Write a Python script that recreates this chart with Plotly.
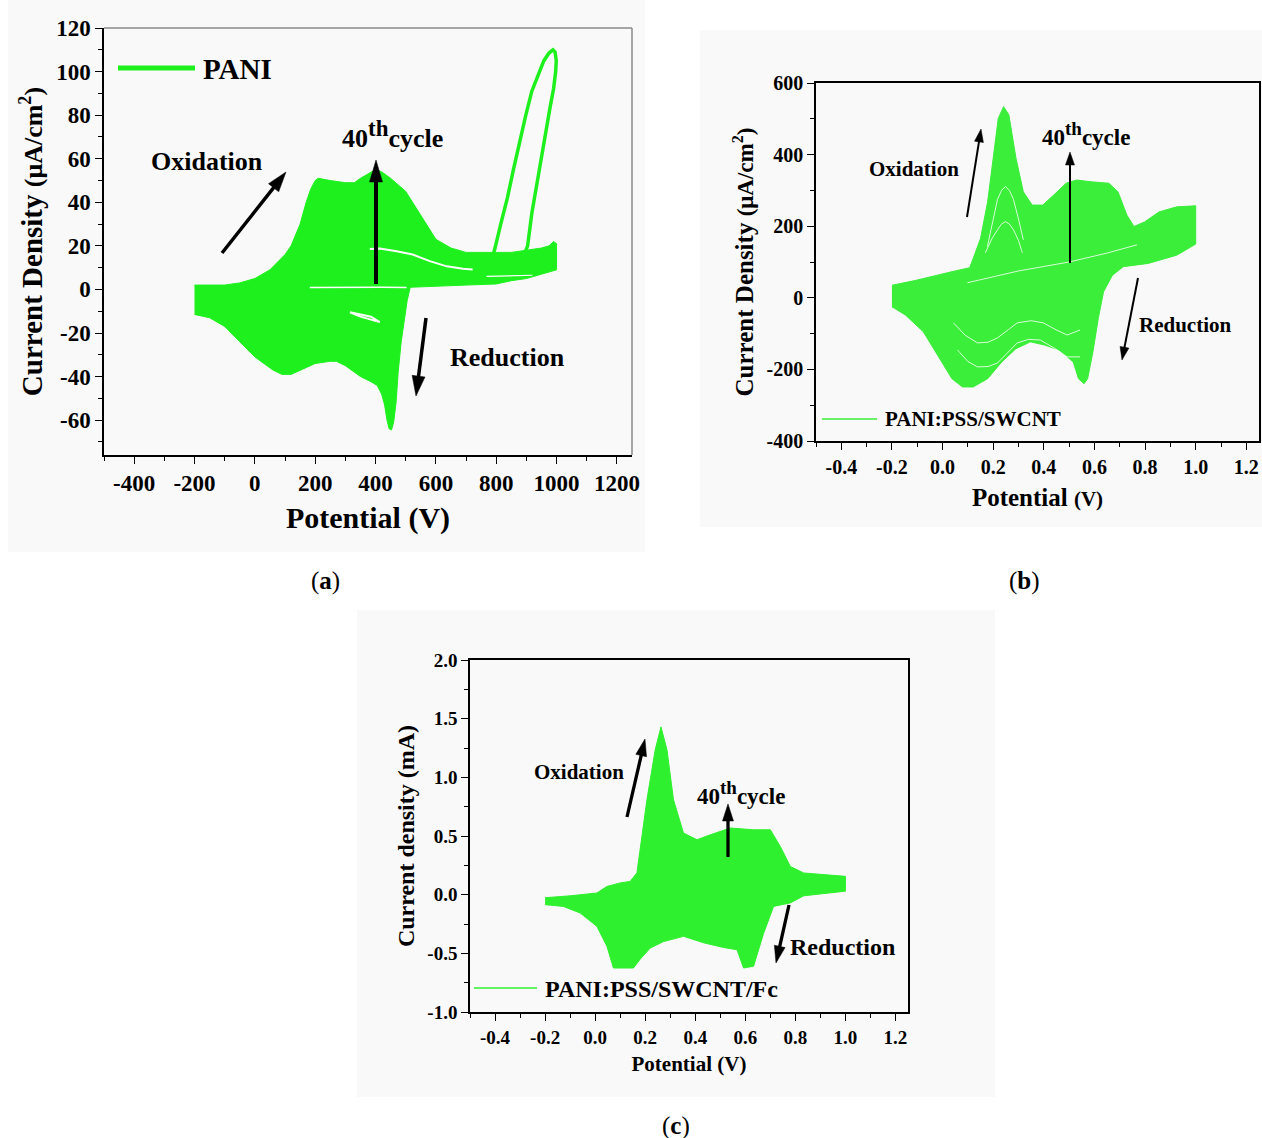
import plotly.graph_objects as go

W, H = 1262, 1138
FONT = "Liberation Serif"

# ---------------- Panel (a): PANI ----------------
a_anodic_x = [-200, -150, -100, -50, 0, 50, 100, 120, 150, 170, 185, 200, 210, 250, 300, 330, 350, 375, 400, 420, 450, 500, 550, 600, 650, 700, 750, 800, 850, 900, 950, 975, 990, 1000]
a_anodic_y = [2, 2, 2, 3, 5, 9, 16, 20, 30, 40, 46, 50, 51, 50, 49, 49, 51, 53, 55, 54, 51, 45, 34, 23, 19, 17, 17, 17, 17, 18, 19, 20, 22, 21]
a_cathodic_x = [1000, 950, 900, 850, 800, 700, 600, 550, 515, 505, 495, 485, 475, 468, 460, 453, 445, 438, 430, 420, 405, 380, 350, 300, 270, 250, 200, 150, 120, 90, 60, 30, 0, -50, -100, -150, -200]
a_cathodic_y = [9, 7, 5, 4, 2.5, 2, 1.5, 1.5, 1, -5, -14, -24, -38, -52, -61, -64.5, -64, -60, -53, -48, -44, -42, -40, -35, -33, -33, -34, -37, -39, -39, -37, -34, -31, -24, -17, -13, -11.5]
a_first_x = [780, 796, 815, 837, 857, 877, 898, 918, 940, 958, 975, 988, 995, 999, 997, 990, 979, 958, 938, 918, 904, 890, 860, 820, 780]
a_first_y = [11, 19, 30, 42, 55, 68, 80, 91, 99, 105, 108.5, 110, 109, 105, 100, 92, 84, 68, 51, 35, 20, 15, 12, 11.5, 11]
a_gap1_x = [381, 414, 470, 523, 580, 636, 690, 722]
a_gap1_y = [18.5, 18.8, 17.5, 16, 13, 10.6, 9.5, 9.2]
a_gap2_x = [182, 250, 330, 420, 503]
a_gap2_y = [0.9, 1.0, 1.2, 1.0, 0.9]
a_gap3_x = [315, 350, 385, 414, 385, 350, 315]
a_gap3_y = [-10.5, -11.5, -12.5, -15, -14, -12.5, -10.5]
a_gap4_x = [768, 840, 920]
a_gap4_y = [6, 6.3, 6.5]
a_xticks = [-400, -200, 0, 200, 400, 600, 800, 1000, 1200]
a_xlabels = ["-400", "-200", "0", "200", "400", "600", "800", "1000", "1200"]
a_yticks = [-60, -40, -20, 0, 20, 40, 60, 80, 100, 120]
a_ylabels = ["-60", "-40", "-20", "0", "20", "40", "60", "80", "100", "120"]

# ---------------- Panel (b): PANI:PSS/SWCNT ----------------
b_anodic_x = [-0.2, -0.104, 0.037, 0.107, 0.121, 0.15, 0.178, 0.199, 0.22, 0.241, 0.262, 0.29, 0.319, 0.354, 0.396, 0.439, 0.488, 0.53, 0.587, 0.657, 0.693, 0.728, 0.756, 0.798, 0.855, 0.925, 1.0]
b_anodic_y = [35, 49, 73, 84, 110, 166, 268, 390, 501, 534, 511, 390, 296, 259, 259, 287, 320, 329, 324, 320, 296, 231, 199, 212, 240, 254, 257]
b_cathodic_x = [1.0, 1.0, 0.925, 0.812, 0.714, 0.671, 0.636, 0.615, 0.594, 0.573, 0.559, 0.537, 0.516, 0.46, 0.403, 0.347, 0.29, 0.234, 0.178, 0.121, 0.079, 0.037, -0.02, -0.076, -0.147, -0.2]
b_cathodic_y = [220, 150, 119, 96, 87, 63, 17, -58, -151, -226, -240, -226, -179, -146, -132, -123, -142, -179, -226, -249, -249, -226, -160, -95, -48, -25]
b_diag_x = [0.098, 0.3, 0.5, 0.65, 0.768]
b_diag_y = [42, 75, 100, 125, 148]
b_w1_x = [0.043, 0.09, 0.138, 0.18, 0.217, 0.26, 0.295, 0.35, 0.398, 0.45, 0.492, 0.543]
b_w1_y = [-70, -105, -126, -124, -112, -88, -70, -64, -70, -90, -104, -90]
b_w2_x = [0.059, 0.1, 0.138, 0.18, 0.217, 0.26, 0.295, 0.34, 0.386, 0.44, 0.492, 0.543]
b_w2_y = [-146, -178, -193, -192, -182, -152, -126, -116, -118, -140, -165, -165]
b_arc1_x = [0.177, 0.2, 0.217, 0.233, 0.248, 0.264, 0.28, 0.3, 0.319]
b_arc1_y = [143, 220, 275, 300, 311, 300, 275, 220, 162]
b_arc2_x = [0.169, 0.195, 0.217, 0.233, 0.248, 0.264, 0.28, 0.3, 0.315]
b_arc2_y = [126, 165, 190, 206, 213, 206, 190, 160, 126]
b_xticks = [-0.4, -0.2, 0.0, 0.2, 0.4, 0.6, 0.8, 1.0, 1.2]
b_xlabels = ["-0.4", "-0.2", "0.0", "0.2", "0.4", "0.6", "0.8", "1.0", "1.2"]
b_yticks = [-400, -200, 0, 200, 400, 600]
b_ylabels = ["-400", "-200", "0", "200", "400", "600"]

# ---------------- Panel (c): PANI:PSS/SWCNT/Fc ----------------
c_anodic_x = [-0.2, -0.1, 0.007, 0.047, 0.1, 0.14, 0.167, 0.185, 0.207, 0.24, 0.263, 0.287, 0.313, 0.353, 0.407, 0.46, 0.54, 0.633, 0.7, 0.74, 0.78, 0.833, 0.913, 1.0]
c_anodic_y = [-0.026, -0.01, 0.014, 0.07, 0.1, 0.113, 0.187, 0.45, 0.81, 1.235, 1.43, 1.235, 0.81, 0.525, 0.468, 0.51, 0.568, 0.553, 0.553, 0.41, 0.24, 0.185, 0.17, 0.156]
c_cathodic_x = [1.0, 0.913, 0.833, 0.78, 0.713, 0.673, 0.633, 0.593, 0.567, 0.513, 0.433, 0.353, 0.273, 0.22, 0.18, 0.153, 0.073, 0.047, 0.007, -0.06, -0.127, -0.2]
c_cathodic_y = [0.03, 0.01, -0.01, -0.07, -0.1, -0.33, -0.61, -0.625, -0.47, -0.45, -0.41, -0.355, -0.4, -0.455, -0.55, -0.625, -0.625, -0.44, -0.27, -0.156, -0.1, -0.085]
c_xticks = [-0.4, -0.2, 0.0, 0.2, 0.4, 0.6, 0.8, 1.0, 1.2]
c_xlabels = ["-0.4", "-0.2", "0.0", "0.2", "0.4", "0.6", "0.8", "1.0", "1.2"]
c_yticks = [-1.0, -0.5, 0.0, 0.5, 1.0, 1.5, 2.0]
c_ylabels = ["-1.0", "-0.5", "0.0", "0.5", "1.0", "1.5", "2.0"]

GA = "#1ef01e"
GB = "#3aee3a"
GC = "#2ef02e"
WHITE_SOFT = "rgba(255,255,255,0.8)"


def PX(x):
    return x / W


def PY(y):
    return 1 - y / H


fig = go.Figure()


def add_line(x, y, color, width, xa, ya, fill=None):
    fig.add_trace(go.Scatter(
        x=x, y=y, mode="lines", xaxis=xa, yaxis=ya,
        line=dict(color=color, width=width),
        fill=fill, fillcolor=color if fill else None,
        showlegend=False, hoverinfo="skip"))


# (a)
add_line(a_anodic_x + a_cathodic_x, a_anodic_y + a_cathodic_y, GA, 1, "x", "y", fill="toself")
add_line(a_first_x, a_first_y, GA, 3.5, "x", "y")
add_line(a_gap1_x, a_gap1_y, "white", 2, "x", "y")
add_line(a_gap2_x, a_gap2_y, "white", 1.5, "x", "y")
add_line(a_gap3_x, a_gap3_y, "white", 2, "x", "y")
add_line(a_gap4_x, a_gap4_y, "white", 1.2, "x", "y")
# (b)
add_line(b_anodic_x + b_cathodic_x, b_anodic_y + b_cathodic_y, GB, 1, "x2", "y2", fill="toself")
for gx, gy in [(b_diag_x, b_diag_y), (b_w1_x, b_w1_y), (b_w2_x, b_w2_y), (b_arc1_x, b_arc1_y), (b_arc2_x, b_arc2_y)]:
    add_line(gx, gy, WHITE_SOFT, 1, "x2", "y2")
# (c)
add_line(c_anodic_x + c_cathodic_x, c_anodic_y + c_cathodic_y, GC, 1, "x3", "y3", fill="toself")


def axis(domain, rng, tickvals, ticktext, minor_dtick, fsize, title, tsize, standoff, anchor, mirror):
    return dict(
        domain=domain, range=rng, anchor=anchor, automargin=False,
        tickmode="array", tickvals=tickvals, ticktext=ticktext,
        ticks="outside", ticklen=7, tickwidth=1.3, tickcolor="black",
        minor=dict(ticks="outside", ticklen=4, tickwidth=1, tickcolor="black", dtick=minor_dtick, tick0=0),
        showline=True, linecolor="black", linewidth=1.5, mirror=mirror,
        showgrid=False, zeroline=False,
        tickfont=dict(family=FONT, size=fsize, color="black", weight="bold"),
        title=dict(text=title, font=dict(family=FONT, size=tsize, color="black", weight="bold"), standoff=standoff),
    )


layout = dict(
    template="none",
    width=W, height=H, margin=dict(l=0, r=0, t=0, b=0, pad=0), autosize=False,
    paper_bgcolor="white", plot_bgcolor="rgba(0,0,0,0)", showlegend=False,
    xaxis=axis([104 / W, 632 / W], [-500, 1250], a_xticks, a_xlabels, 100, 23,
               "Potential (V)", 30, 12, "y", False),
    yaxis=axis([PY(455), PY(28)], [-76, 120], a_yticks, a_ylabels, 10, 23,
               "Current Density <span style='font-size:26px'>(μA/cm<sup>2</sup>)</span>", 29, 5, "x", False),
    xaxis2=axis([816 / W, 1259 / W], [-0.5, 1.25], b_xticks, b_xlabels, 0.1, 20,
                "Potential <span style='font-size:21px'>(V)</span>", 25, 12, "y2", True),
    yaxis2=axis([PY(441), PY(83)], [-400, 600], b_yticks, b_ylabels, 100, 20,
                "Current Density <span style='font-size:23px'>(μA/cm<sup>2</sup>)</span>", 25, 6, "x2", True),
    xaxis3=axis([470 / W, 908 / W], [-0.5, 1.25], c_xticks, c_xlabels, 0.1, 19,
                "Potential (V)", 21, 10, "y3", True),
    yaxis3=axis([PY(1012), PY(660)], [-1.0, 2.0], c_yticks, c_ylabels, 0.25, 19,
                "Current density (mA)", 24, 6, "x3", True),
)
fig.update_layout(**layout)

shapes = []
# faint panel backgrounds
for (x0, y0, x1, y1) in [(8, 0, 645, 552), (700, 30, 1262, 527), (357, 610, 995, 1097)]:
    shapes.append(dict(type="rect", xref="paper", yref="paper", x0=PX(x0), x1=PX(x1), y0=PY(y1), y1=PY(y0),
                       fillcolor="#f9f9f9", line=dict(width=0), layer="below"))
# grey top/right frame for (a)
shapes.append(dict(type="line", xref="paper", yref="paper", x0=PX(104), x1=PX(632), y0=PY(28), y1=PY(28),
                   line=dict(color="#8a8a8a", width=1.5)))
shapes.append(dict(type="line", xref="paper", yref="paper", x0=PX(632), x1=PX(632), y0=PY(28), y1=PY(455),
                   line=dict(color="#8a8a8a", width=1.5)))
# legend samples
shapes.append(dict(type="line", xref="paper", yref="paper", x0=PX(118), x1=PX(195), y0=PY(68), y1=PY(68),
                   line=dict(color=GA, width=5)))
shapes.append(dict(type="line", xref="paper", yref="paper", x0=PX(822), x1=PX(877), y0=PY(419), y1=PY(419),
                   line=dict(color=GB, width=1.5)))
shapes.append(dict(type="line", xref="paper", yref="paper", x0=PX(474), x1=PX(537), y0=PY(988), y1=PY(988),
                   line=dict(color=GC, width=1.5)))


def arrow(hx, hy, tx, ty, width, length, half):
    """Arrow drawn as shapes (shaft + triangular head), in pixel space of the page."""
    dx, dy = hx - tx, hy - ty
    n = (dx * dx + dy * dy) ** 0.5
    ux, uy = dx / n, dy / n
    bx, by = hx - ux * length, hy - uy * length
    shapes.append(dict(type="line", xref="paper", yref="paper",
                       x0=PX(tx), y0=PY(ty), x1=PX(bx + ux * 2), y1=PY(by + uy * 2),
                       line=dict(color="black", width=width)))
    p1 = (bx - uy * half, by + ux * half)
    p2 = (bx + uy * half, by - ux * half)
    path = "M {:.5f},{:.5f} L {:.5f},{:.5f} L {:.5f},{:.5f} Z".format(
        PX(hx), PY(hy), PX(p1[0]), PY(p1[1]), PX(p2[0]), PY(p2[1]))
    shapes.append(dict(type="path", xref="paper", yref="paper", path=path,
                       fillcolor="black", line=dict(color="black", width=0.5)))


# (a) arrows
arrow(286, 172, 222, 253, 3.5, 20, 6.5)
arrow(376, 160, 376, 284, 4, 22, 6.5)
arrow(416, 396, 426, 318, 3.5, 20, 6.5)
# (b) arrows
arrow(981, 129, 967, 217, 2, 13, 4.5)
arrow(1070, 152, 1070, 263, 2, 13, 4.5)
arrow(1122, 360, 1138, 278, 2, 13, 4.5)
# (c) arrows
arrow(645, 739, 627, 817, 3.3, 17, 5.5)
arrow(728, 804, 728, 857, 3.3, 17, 5.5)
arrow(776, 963, 789, 905, 3.3, 17, 5.5)

fig.update_layout(shapes=shapes)

ann = []


def text(x, y, s, size, xanchor="center", weight="bold"):
    ann.append(dict(x=PX(x), y=PY(y), xref="paper", yref="paper", text=s, showarrow=False,
                    xanchor=xanchor, yanchor="middle",
                    font=dict(family=FONT, size=size, color="black", weight=weight)))


# (a)
text(207, 162, "Oxidation", 26)
text(392, 134, "40<sup><span style='font-size:23px'>th</span></sup>cycle", 26)
text(507, 357, "Reduction", 26)
text(201, 69, "PANI", 29, xanchor="left")
text(325, 581, "(<b>a</b>)", 25, weight="normal")
# (b)
text(914, 169, "Oxidation", 21)
text(1086, 134, "40<sup><span style='font-size:19px'>th</span></sup>cycle", 23)
text(1185, 325, "Reduction", 21)
text(883, 419, "PANI:PSS/SWCNT", 21, xanchor="left")
text(1024, 581, "(<b>b</b>)", 25, weight="normal")
# (c)
text(579, 772, "Oxidation", 21)
text(741, 793, "40<sup><span style='font-size:19px'>th</span></sup>cycle", 23)
text(842, 947, "Reduction", 24)
text(543, 989, "PANI:PSS/SWCNT/Fc", 24, xanchor="left")
text(676, 1126, "(<b>c</b>)", 25, weight="normal")

fig.update_layout(annotations=ann)

fig.write_html(
    "out.html",
    config={"displayModeBar": False},
    post_script="document.body.style.margin='0px';document.body.style.overflow='hidden';",
)
